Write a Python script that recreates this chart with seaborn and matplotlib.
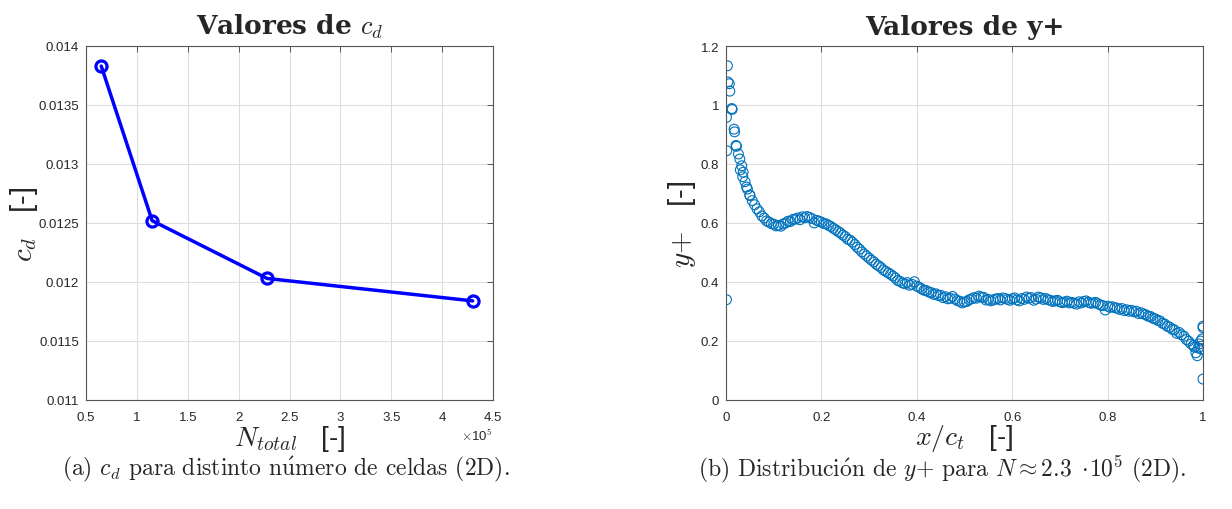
import matplotlib
matplotlib.use("Agg")
import matplotlib.pyplot as plt
import seaborn as sns
import numpy as np
import pandas as pd
from matplotlib.ticker import FuncFormatter, FixedLocator

# ---------------- data ----------------
n_total = [0.65e5, 1.15e5, 2.28e5, 4.30e5]
cd_vals = [0.01383, 0.01252, 0.01203, 0.01184]

xc_le = [0.001, 0.0015, 0.001, 0.003, 0.004, 0.007, 0.008, 0.012, 0.013, 0.017,
         0.018, 0.021, 0.022, 0.026, 0.029, 0.033, 0.036, 0.043, 0.050]
yp_le = [0.34, 0.845, 0.958, 1.133, 1.078, 1.072, 1.047, 0.988, 0.985, 0.918,
         0.909, 0.863, 0.86, 0.834, 0.817, 0.794, 0.772, 0.722, 0.693]

xc_up = [0.03, 0.04, 0.05, 0.06, 0.07, 0.08, 0.09, 0.10, 0.11, 0.12, 0.13, 0.14, 0.15,
         0.16, 0.17, 0.18, 0.19, 0.20, 0.21, 0.22, 0.23, 0.24, 0.25, 0.26, 0.27, 0.28,
         0.29, 0.30, 0.31, 0.32, 0.33, 0.34, 0.35, 0.36, 0.37, 0.38, 0.39, 0.40, 0.41,
         0.42, 0.43, 0.44, 0.45, 0.46, 0.47, 0.48, 0.49, 0.50, 0.51, 0.52, 0.53, 0.54,
         0.55, 0.56, 0.57, 0.58, 0.59, 0.60, 0.61, 0.62, 0.63, 0.64, 0.65, 0.66, 0.67,
         0.68, 0.69, 0.70, 0.71, 0.72, 0.73, 0.74, 0.75, 0.76, 0.77, 0.78, 0.79, 0.80,
         0.81, 0.82, 0.83, 0.84, 0.85, 0.86, 0.87, 0.88, 0.89, 0.90, 0.91, 0.92, 0.93,
         0.94, 0.95, 0.96, 0.97, 0.98, 0.99, 1.00]
yp_up = [0.78, 0.74, 0.695, 0.662, 0.638, 0.617, 0.603, 0.596, 0.592, 0.597, 0.606, 0.612,
         0.617, 0.621, 0.622, 0.615, 0.609, 0.603, 0.597, 0.588, 0.577, 0.566, 0.554, 0.542,
         0.527, 0.511, 0.495, 0.481, 0.468, 0.455, 0.441, 0.431, 0.42, 0.405, 0.397, 0.398,
         0.392, 0.386, 0.377, 0.371, 0.364, 0.36, 0.355, 0.35, 0.345, 0.342, 0.335, 0.332,
         0.34, 0.347, 0.352, 0.348, 0.341, 0.339, 0.344, 0.346, 0.341, 0.343, 0.339, 0.344,
         0.349, 0.347, 0.342, 0.346, 0.344, 0.338, 0.336, 0.333, 0.332, 0.329, 0.328, 0.333,
         0.334, 0.331, 0.329, 0.326, 0.32, 0.318, 0.316, 0.311, 0.31, 0.306, 0.304, 0.301,
         0.296, 0.289, 0.283, 0.275, 0.268, 0.257, 0.247, 0.238, 0.229, 0.216, 0.199, 0.185,
         0.176, 0.25]

xc_lo = [0.035, 0.045, 0.055, 0.065, 0.075, 0.085, 0.095, 0.105, 0.115, 0.125, 0.135,
         0.145, 0.155, 0.165, 0.175, 0.185, 0.195, 0.205, 0.215, 0.225, 0.235, 0.245,
         0.255, 0.265, 0.275, 0.285, 0.295, 0.305, 0.315, 0.325, 0.335, 0.345, 0.355,
         0.365, 0.375, 0.385, 0.395, 0.405, 0.415, 0.425, 0.435, 0.445, 0.455, 0.465,
         0.475, 0.485, 0.495, 0.505, 0.515, 0.525, 0.535, 0.545, 0.555, 0.565, 0.575,
         0.585, 0.595, 0.605, 0.615, 0.625, 0.635, 0.645, 0.655, 0.665, 0.675, 0.685,
         0.695, 0.705, 0.715, 0.725, 0.735, 0.745, 0.755, 0.765, 0.775, 0.785, 0.795,
         0.805, 0.815, 0.825, 0.835, 0.845, 0.855, 0.865, 0.875, 0.885, 0.895, 0.905,
         0.915, 0.925, 0.935, 0.945, 0.955, 0.965, 0.975, 0.985, 0.995, 1.0]
yp_lo = [0.757, 0.715, 0.676, 0.648, 0.624, 0.607, 0.598, 0.59, 0.589, 0.6, 0.605, 0.613,
         0.611, 0.618, 0.619, 0.6, 0.606, 0.598, 0.592, 0.582, 0.571, 0.559, 0.545, 0.535,
         0.518, 0.502, 0.488, 0.474, 0.46, 0.449, 0.436, 0.426, 0.414, 0.402, 0.394, 0.389,
         0.401, 0.382, 0.372, 0.366, 0.358, 0.354, 0.347, 0.343, 0.351, 0.337, 0.329, 0.334,
         0.343, 0.345, 0.349, 0.339, 0.336, 0.342, 0.339, 0.344, 0.338, 0.346, 0.336, 0.341,
         0.345, 0.338, 0.349, 0.341, 0.34, 0.334, 0.338, 0.33, 0.335, 0.331, 0.325, 0.329,
         0.336, 0.328, 0.331, 0.322, 0.305, 0.314, 0.313, 0.307, 0.303, 0.301, 0.299, 0.293,
         0.292, 0.284, 0.277, 0.27, 0.26, 0.25, 0.24, 0.226, 0.221, 0.205, 0.19, 0.16, 0.2,
         0.245]

xc_te = [0.992, 0.996, 0.988, 0.982, 1.0, 0.998]
yp_te = [0.19, 0.173, 0.15, 0.179, 0.071, 0.207]

cd_yticks = [0.011, 0.0115, 0.012, 0.0125, 0.013, 0.0135, 0.014]
n_xticks = [0.5e5, 1e5, 1.5e5, 2e5, 2.5e5, 3e5, 3.5e5, 4e5, 4.5e5]
yp_yticks = [0, 0.2, 0.4, 0.6, 0.8, 1.0, 1.2]
xc_xticks = [0, 0.2, 0.4, 0.6, 0.8, 1.0]

# ---------------- style ----------------
sns.set_style("white")
plt.rcParams['font.family'] = ['Liberation Sans', 'DejaVu Sans']
plt.rcParams['mathtext.fontset'] = 'cm'
plt.rcParams['axes.unicode_minus'] = False

SERIF = ['cmr10', 'DejaVu Serif']
TITLE_FONT = ['DejaVu Serif']

W, H = 1232, 510
fig = plt.figure(figsize=(W / 100, H / 100), dpi=100)

def ax_rect(l, r, t, b):
    return [l / W, 1 - b / H, (r - l) / W, (b - t) / H]

axL = fig.add_axes(ax_rect(86, 493, 47, 401))
axR = fig.add_axes(ax_rect(726, 1203, 47, 401))

axis_col = '#262626'
for ax in (axL, axR):
    for s in ax.spines.values():
        s.set_color('#555555')
        s.set_linewidth(0.8)
    ax.tick_params(direction='in', length=4, width=0.7, colors='#555555',
                   labelcolor=axis_col, labelsize=9.5, top=True, right=True)
    ax.tick_params(axis='x', pad=8)
    ax.tick_params(axis='y', pad=5)
    ax.grid(True, color='#dedede', linewidth=0.8)
    ax.set_axisbelow(True)

def place_labels(ax, ylab_px):
    # ylab_px: horizontal centre of the y label, in figure pixels
    l, b, w, h = ax.get_position().bounds
    ax.xaxis.set_label_coords(0.5, (401 - 439) / 354)
    ax.xaxis.label.set_va('center')
    ax.yaxis.set_label_coords((ylab_px - l * W) / (w * W), 0.5)
    ax.yaxis.label.set_va('center')

# left plot
dfL = pd.DataFrame({'N': n_total, 'cd': cd_vals})
sns.lineplot(data=dfL, x='N', y='cd', ax=axL, color='blue', linewidth=2.5,
             marker='o', markersize=8, markerfacecolor='none',
             markeredgecolor='blue', markeredgewidth=2.3)
axL.set_xlim(0.5e5, 4.5e5)
axL.set_ylim(0.011, 0.014)
axL.xaxis.set_major_locator(FixedLocator(n_xticks))
axL.yaxis.set_major_locator(FixedLocator(cd_yticks))
axL.xaxis.set_major_formatter(FuncFormatter(lambda v, p: '%g' % (v / 1e5)))
axL.yaxis.set_major_formatter(FuncFormatter(lambda v, p: '%g' % round(v, 5)))
axL.text(1.0, -0.075, r'$\times$10$^5$', transform=axL.transAxes, ha='right',
         va='top', fontsize=9.5, color=axis_col)
axL.set_xlabel(r'$N_{total}$   [-]', fontsize=20)
axL.set_ylabel(r'$c_d$   [-]', fontsize=21)
place_labels(axL, 24)
axL.set_title(r'Valores de $c_d$', fontsize=19, fontweight='bold',
              family=TITLE_FONT, pad=9)

# right plot
xc_all = xc_le + xc_up + xc_lo + xc_te
yp_all = yp_le + yp_up + yp_lo + yp_te
dfR = pd.DataFrame({'xc': xc_all, 'yp': yp_all})
sns.scatterplot(data=dfR, x='xc', y='yp', ax=axR, marker='o', s=50,
                facecolors='none', edgecolor='#0072BD', linewidth=0.8)
axR.set_xlim(0, 1)
axR.set_ylim(0, 1.2)
axR.xaxis.set_major_locator(FixedLocator(xc_xticks))
axR.yaxis.set_major_locator(FixedLocator(yp_yticks))
axR.xaxis.set_major_formatter(FuncFormatter(lambda v, p: '%g' % round(v, 3)))
axR.yaxis.set_major_formatter(FuncFormatter(lambda v, p: '%g' % round(v, 3)))
axR.set_xlabel(r'$x/c_t$   [-]', fontsize=20)
axR.set_ylabel(r'$y{+}$   [-]', fontsize=21)
place_labels(axR, 682)
axR.set_title('Valores de y+', fontsize=19, fontweight='bold',
              family=TITLE_FONT, pad=9)

# captions
ua = r'$\mathrm{\acute{u}}$'
oa = r'$\mathrm{\acute{o}}$'
fig.text(286 / W, 1 - 469 / H,
         r'(a) $c_d$ para distinto n' + ua + r'mero de celdas (2D).',
         ha='center', va='center', fontsize=17, family=SERIF)
fig.text(942 / W, 1 - 469 / H,
         r'(b) Distribuci' + oa + r'n de $y{+}$ para $N \approx 2.3\ \cdot\!10^5$ (2D).',
         ha='center', va='center', fontsize=17, family=SERIF)

fig.savefig('out.png', dpi=100)
